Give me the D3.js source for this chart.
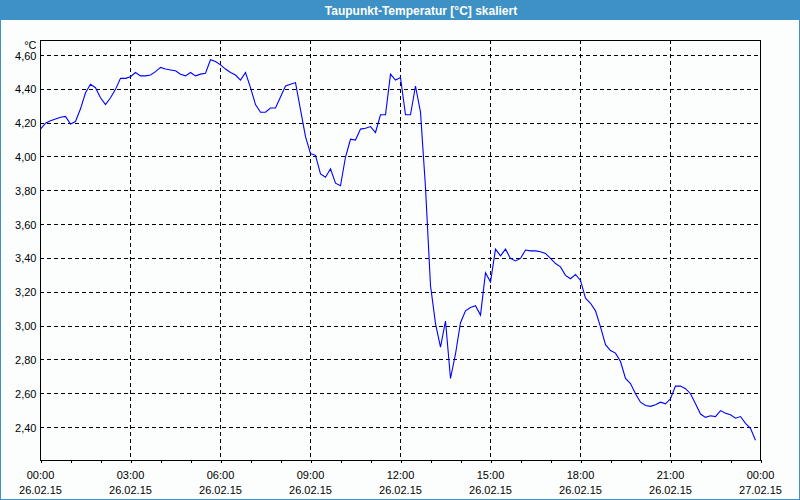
<!DOCTYPE html>
<html>
<head>
<meta charset="utf-8">
<script src="https://cdn.jsdelivr.net/npm/d3@7/dist/d3.min.js"></script>
<style>
  html, body { margin: 0; padding: 0; background: #fcfefd; }
  svg { display: block; }
  text { font-family: "Liberation Sans", Arial, sans-serif; }
</style>
</head>
<body>
<script>
// ---- data ----
const title = "Taupunkt-Temperatur [°C] skaliert";
const unitLabel = "°C";
const startTime = new Date(2015, 1, 26, 0, 0);
const endTime = new Date(2015, 1, 27, 0, 0);
const sampleMinutes = 10;
// dew point values every 10 minutes, 26.02.15 00:00 .. 23:50
const values = [
  4.165, 4.20, 4.215, 4.225, 4.235, 4.24, 4.195, 4.21, 4.285, 4.38,
  4.43, 4.41, 4.35, 4.31, 4.35, 4.40, 4.465, 4.465, 4.475, 4.50,
  4.48, 4.48, 4.485, 4.505, 4.53, 4.52, 4.515, 4.51, 4.49, 4.48,
  4.50, 4.48, 4.49, 4.495, 4.575, 4.565, 4.545, 4.52, 4.50, 4.485,
  4.455, 4.50, 4.41, 4.31, 4.265, 4.265, 4.29, 4.29, 4.355, 4.42,
  4.43, 4.44, 4.28, 4.12, 4.02, 4.01, 3.90, 3.88, 3.93, 3.845,
  3.83, 4.00, 4.105, 4.10, 4.165, 4.17, 4.18, 4.145, 4.25, 4.25,
  4.49, 4.455, 4.47, 4.25, 4.25, 4.42, 4.265, 3.82, 3.24, 3.015,
  2.875, 3.03, 2.69, 2.835, 3.02, 3.09, 3.11, 3.12, 3.065, 3.315,
  3.26, 3.455, 3.415, 3.455, 3.40, 3.385, 3.40, 3.45, 3.445, 3.445,
  3.44, 3.43, 3.40, 3.37, 3.35, 3.30, 3.28, 3.305, 3.27, 3.165,
  3.135, 3.09, 2.995, 2.89, 2.855, 2.84, 2.79, 2.69, 2.66, 2.60,
  2.55, 2.53, 2.525, 2.535, 2.55, 2.54, 2.57, 2.645, 2.645, 2.63,
  2.60, 2.54, 2.48, 2.46, 2.47, 2.465, 2.50, 2.485, 2.475, 2.455,
  2.465, 2.425, 2.395, 2.325
];
const yTicks = [2.4, 2.6, 2.8, 3.0, 3.2, 3.4, 3.6, 3.8, 4.0, 4.2, 4.4, 4.6];
const yDomain = [2.205, 4.689];
const xTimeLabels = ["00:00", "03:00", "06:00", "09:00", "12:00", "15:00", "18:00", "21:00", "00:00"];
const xDateLabels = ["26.02.15", "26.02.15", "26.02.15", "26.02.15", "26.02.15", "26.02.15", "26.02.15", "26.02.15", "27.02.15"];

// ---- layout ----
const W = 800, H = 500;
const pLeft = 40, pRight = 760, pTop = 40, pBottom = 460;
const blue = "#3d91c4";

const svg = d3.select("body").append("svg").attr("width", W).attr("height", H);

svg.append("rect").attr("x", 0).attr("y", 0).attr("width", W).attr("height", H).attr("fill", "#fcfefd");
svg.append("rect").attr("x", 0).attr("y", 0).attr("width", W).attr("height", 20).attr("fill", blue);
svg.append("rect").attr("x", 0.5).attr("y", 0.5).attr("width", W - 1).attr("height", H - 1)
  .attr("fill", "none").attr("stroke", blue).attr("stroke-width", 1);
svg.append("text").attr("x", 421).attr("y", 14.5).attr("text-anchor", "middle")
  .attr("fill", "#ffffff").attr("font-weight", "bold").attr("font-size", "12px").text(title);

const x = d3.scaleTime().domain([startTime, endTime]).range([pLeft + 0.5, pRight + 0.5]);
const y = d3.scaleLinear().domain(yDomain).range([pBottom + 0.5, pTop + 0.5]);

const data = values.map((v, i) => ({ t: d3.timeMinute.offset(startTime, i * sampleMinutes), v }));

// grid
const grid = svg.append("g").attr("stroke", "#000").attr("stroke-width", 1)
  .attr("stroke-dasharray", "4,3").attr("shape-rendering", "crispEdges");
grid.selectAll("line.h").data(yTicks).join("line").attr("class", "h")
  .attr("x1", pLeft).attr("x2", pRight)
  .attr("y1", d => Math.round(y(d) - 0.5) + 0.5).attr("y2", d => Math.round(y(d) - 0.5) + 0.5);
const majorTimes = d3.timeHour.every(3).range(startTime, d3.timeMinute.offset(endTime, 1));
grid.selectAll("line.v").data(majorTimes.slice(1, -1)).join("line").attr("class", "v")
  .attr("y1", pTop).attr("y2", pBottom)
  .attr("x1", d => Math.round(x(d) - 0.5) + 0.5).attr("x2", d => Math.round(x(d) - 0.5) + 0.5);

// x axis minor/major ticks
const xAxis = d3.axisBottom(x).ticks(d3.timeHour.every(1)).tickSize(3).tickFormat("");
const gx = svg.append("g").attr("transform", `translate(0,${pBottom})`).call(xAxis);
gx.select(".domain").remove();
gx.selectAll("line").attr("shape-rendering", "crispEdges").attr("stroke", "#000");

// x labels
const gl = svg.append("g").attr("font-size", "11px").attr("fill", "#000").attr("text-anchor", "middle");
majorTimes.forEach((t, i) => {
  gl.append("text").attr("x", x(t)).attr("y", 479).text(xTimeLabels[i]);
  gl.append("text").attr("x", x(t)).attr("y", 493.5).text(xDateLabels[i]);
});

// y labels
const fmt = d3.format(".2f");
const yl = svg.append("g").attr("font-size", "11px").attr("fill", "#000").attr("text-anchor", "end");
yl.selectAll("text").data(yTicks).join("text")
  .attr("x", 36.5).attr("y", d => y(d) + 4)
  .text(d => fmt(d).replace(".", ","));
svg.append("text").attr("x", 36.5).attr("y", 48.5).attr("text-anchor", "end")
  .attr("font-size", "11px").attr("fill", "#000").text(unitLabel);

// frame
svg.append("rect").attr("x", pLeft + 0.5).attr("y", pTop + 0.5).attr("width", pRight - pLeft).attr("height", pBottom - pTop)
  .attr("fill", "none").attr("stroke", "#000").attr("stroke-width", 1).attr("shape-rendering", "crispEdges");

// line
const line = d3.line().x(d => x(d.t)).y(d => y(d.v));
svg.append("path").datum(data).attr("d", line)
  .attr("fill", "none").attr("stroke", "#0000ff").attr("stroke-width", 1.1);
</script>
</body>
</html>
